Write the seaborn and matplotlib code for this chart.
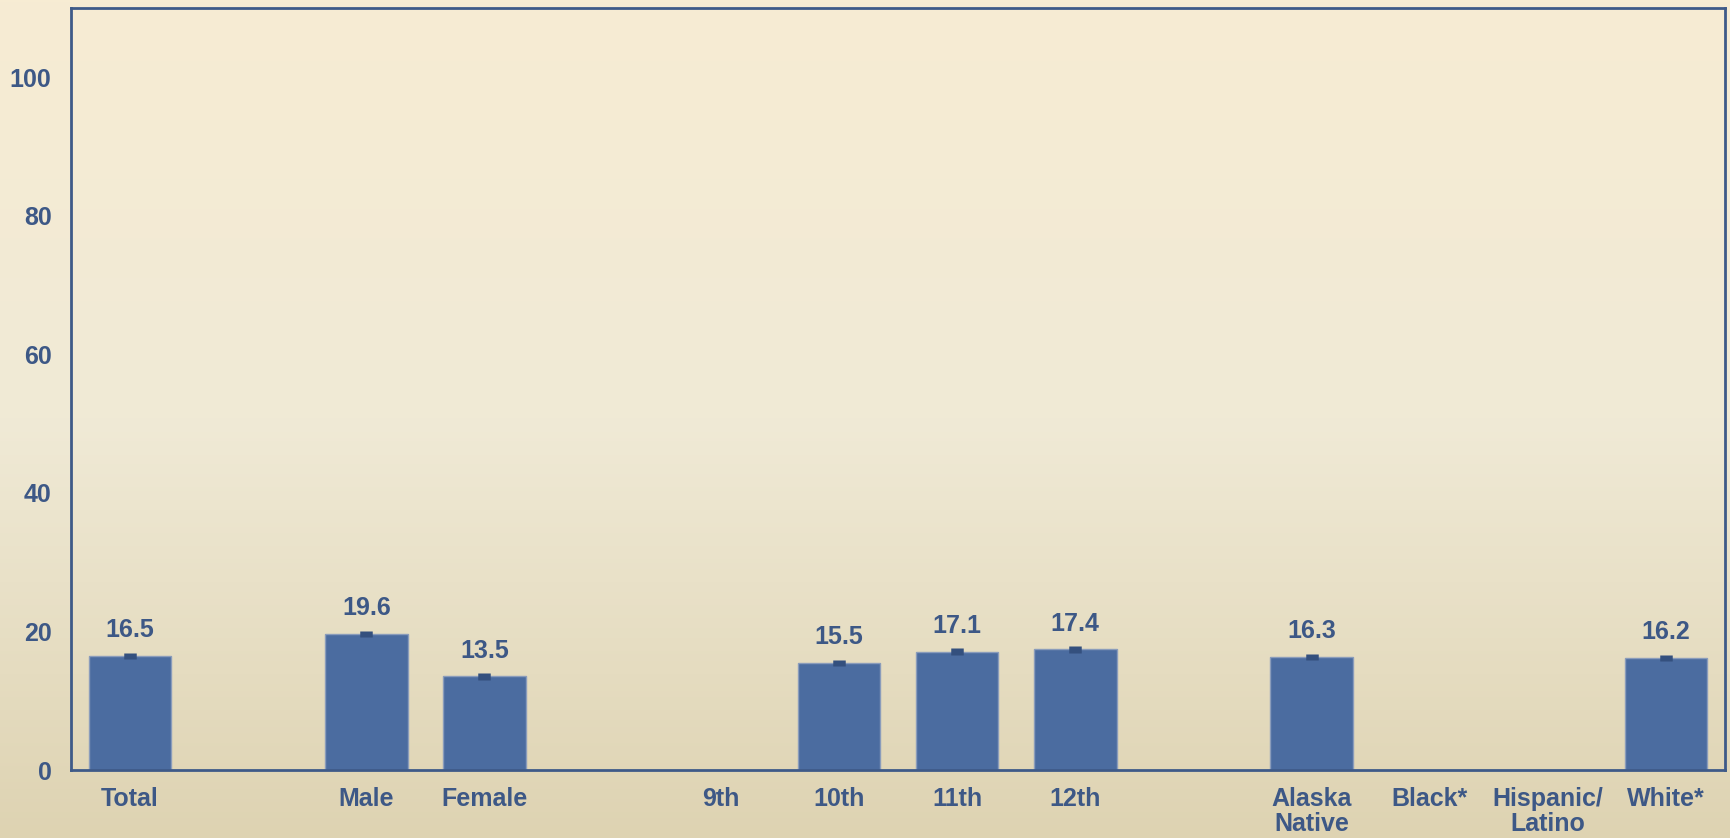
import numpy as np
import pandas as pd
import matplotlib
matplotlib.use("Agg")
import matplotlib.pyplot as plt
import seaborn as sns
from matplotlib.colors import LinearSegmentedColormap

# slots on the x axis (blank slots are spacers between groups)
slots = ["Total", " ", "Male", "Female", "  ", "9th", "10th", "11th", "12th", "   ",
         "Alaska\nNative", "Black*", "Hispanic/\nLatino", "White*"]
groups = ["Total", "Male", "Female", "10th", "11th", "12th", "Alaska\nNative", "White*"]
values = [16.5, 19.6, 13.5, 15.5, 17.1, 17.4, 16.3, 16.2]
errs = [0.45, 0.45, 0.45, 0.45, 0.45, 0.45, 0.45, 0.45]

barColor = "#4B6CA0"
textColor = "#3D5886"

sns.set_style("white")
plt.rcParams["font.family"] = ["Liberation Sans", "DejaVu Sans"]
plt.rcParams["font.weight"] = "bold"

fig = plt.figure(figsize=(17.31, 8.38), dpi=100)

# gradient background
bg = fig.add_axes([0, 0, 1, 1], zorder=-10)
cmap = LinearSegmentedColormap.from_list(
    "bg", ["#F7ECD3", "#F0EAD6", "#DED3B2"]
)
grad = np.linspace(0, 1, 256).reshape(-1, 1)
bg.imshow(grad, aspect="auto", cmap=cmap, extent=[0, 1, 0, 1])
bg.axis("off")

ax = fig.add_axes([71 / 1731, 1 - 770 / 838, (1725 - 71) / 1731, (770 - 8) / 838])
ax.patch.set_alpha(0)

df = pd.DataFrame({"group": groups, "value": values})
sns.barplot(data=df, x="group", y="value", order=slots, color=barColor,
            saturation=1, width=0.7, edgecolor="#8A9CBB", linewidth=1, ax=ax)

pos = [slots.index(g) for g in groups]
ax.errorbar(pos, values, yerr=errs, fmt="none", ecolor="#34507E",
            elinewidth=9, capsize=0, zorder=5)

for p, v in zip(pos, values):
    ax.text(p, v + 2.0, f"{v}", ha="center", va="bottom", fontsize=18,
            fontweight="bold", color=textColor)

ax.set_ylim(0, 110)
ax.set_xlim(-0.5, len(slots) - 0.5)
ax.set_yticks([0, 20, 40, 60, 80, 100])
ax.set_xlabel("")
ax.set_ylabel("")
ax.tick_params(axis="both", length=0, labelsize=18, labelcolor=textColor)
ax.tick_params(axis="y", pad=14)
ax.tick_params(axis="x", pad=12)
for lab in ax.get_xticklabels() + ax.get_yticklabels():
    lab.set_fontweight("bold")
for lab in ax.get_xticklabels():
    lab.set_linespacing(1.05)
    lab.set_verticalalignment("top")

for s in ax.spines.values():
    s.set_color("#3E5A88")
    s.set_linewidth(2)
    s.set_visible(True)

fig.savefig("out.png", dpi=100)
